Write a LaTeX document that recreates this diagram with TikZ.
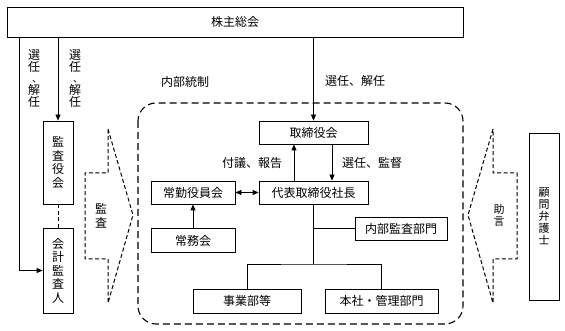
\documentclass[tikz,border=0pt]{standalone}
\usepackage{fontspec}
\setmainfont{Noto Sans CJK JP}
\usetikzlibrary{arrows.meta}
\begin{document}
\begin{tikzpicture}[x=1pt,y=-1pt,
  box/.style={draw, line width=0.8pt, inner sep=0pt, font=\fontsize{12}{14}\selectfont},
  vbox/.style={box, align=center, font=\fontsize{12}{13.5}\selectfont},
  lbl/.style={inner sep=0pt, font=\fontsize{12}{14}\selectfont},
  vch/.style={inner sep=0pt, anchor=base, font=\fontsize{12}{14}\selectfont},
  vcomma/.style={inner sep=0pt, anchor=base, font=\fontsize{10}{12}\selectfont},
  vlbl/.style={inner sep=0pt, align=center, font=\fontsize{12}{13.5}\selectfont},
  conn/.style={line width=0.8pt},
  arr/.style={conn, -{Triangle[length=6pt,width=5pt]}},
  darr/.style={conn, {Triangle[length=6pt,width=5pt]}-{Triangle[length=6pt,width=5pt]}},
  bigdash/.style={line width=1.1pt, dash pattern=on 7pt off 4pt},
  smalldash/.style={line width=1pt, dash pattern=on 4pt off 2.5pt}]
\useasboundingbox (0,0) rectangle (565,331);

% boxes
\node[box,minimum width=456pt,minimum height=30pt] (kabu) at (235,22) {株主総会};
\node[vbox,minimum width=30pt,minimum height=83pt] (kansa) at (58,162.5) {監\\査\\役\\会};
\node[vbox,minimum width=30pt,minimum height=85pt] (kaikei) at (58,270.5) {会\\計\\監\\査\\人};
\node[box,minimum width=109pt,minimum height=23pt] (tori) at (313.5,132.5) {取締役会};
\node[box,minimum width=109pt,minimum height=23pt] (daihyo) at (313.5,192.5) {代表取締役社長};
\node[box,minimum width=84pt,minimum height=23pt] (jokin) at (193,192.5) {常勤役員会};
\node[box,minimum width=84pt,minimum height=24pt] (jomu) at (193,240.5) {常務会};
\node[box,minimum width=92pt,minimum height=23pt] (naibu) at (401,228.5) {内部監査部門};
\node[box,minimum width=108pt,minimum height=24pt] (jigyo) at (247,301) {事業部等};
\node[box,minimum width=113pt,minimum height=24pt] (honsha) at (381.5,301) {本社・管理部門};
\node[vbox,minimum width=30pt,minimum height=167pt,font=\fontsize{11}{12}\selectfont] (komon) at (544,216.5) {顧\\問\\弁\\護\\士};

% internal control region
\draw[bigdash, rounded corners=18pt] (138,103) rectangle (463,324);

% callouts
\draw[smalldash] (108,129) -- (133,215) -- (108,303) -- (108,259) -- (85,259) -- (85,173) -- (108,173) -- cycle;
\draw[smalldash] (493,129) -- (468,215) -- (493,303) -- (493,259) -- (517,259) -- (517,173) -- (493,173) -- cycle;
\node[vlbl] (kansaLbl) at (101,216) {監\\査};
\node[vlbl,font=\fontsize{11}{12}\selectfont] (jogen) at (499,215) {助\\言};

% labels
\node[lbl] (naibutosei) at (185,82) {内部統制};
\node[lbl] (senninR) at (355,81) {選任、解任};
\node[lbl] (fugi) at (252,163) {付議、報告};
\node[lbl] (kantoku) at (372,163) {選任、監督};

\node[vch] (a1) at (34,59.5) {選};
\node[vch] (a2) at (34,71.5) {任};
\node[vcomma] (a3) at (37,82.5) {、};
\node[vch] (a4) at (34,94.5) {解};
\node[vch] (a5) at (34,107) {任};
\node[vch] (b1) at (75,59.5) {選};
\node[vch] (b2) at (75,71.5) {任};
\node[vcomma] (b3) at (78,82.5) {、};
\node[vch] (b4) at (75,94.5) {解};
\node[vch] (b5) at (75,107) {任};

% connectors
\coordinate (lx) at (19,0);
\draw[arr] (kabu.south -| lx) |- (kaikei.west);
\draw[arr] (kabu.south -| kansa.north) -- (kansa.north);
\draw[arr] (kabu.south -| tori.north) -- (tori.north);
\coordinate (ux) at (294,0);
\coordinate (dx) at (332,0);
\draw[arr] (daihyo.north -| ux) -- (tori.south -| ux);
\draw[arr] (tori.south -| dx) -- (daihyo.north -| dx);
\draw[darr] (jokin.east) -- (daihyo.west);
\draw[arr] (jomu.north) -- (jokin.south);
\coordinate (br) at (313.5,264);
\draw[conn] (daihyo.south) -- (br);
\draw[conn] (daihyo.south |- naibu.west) -- (naibu.west);
\draw[conn] (jigyo.north) |- (br) -| (honsha.north);
\draw[smalldash] (kansa.south) -- (kaikei.north);
\end{tikzpicture}
\end{document}
